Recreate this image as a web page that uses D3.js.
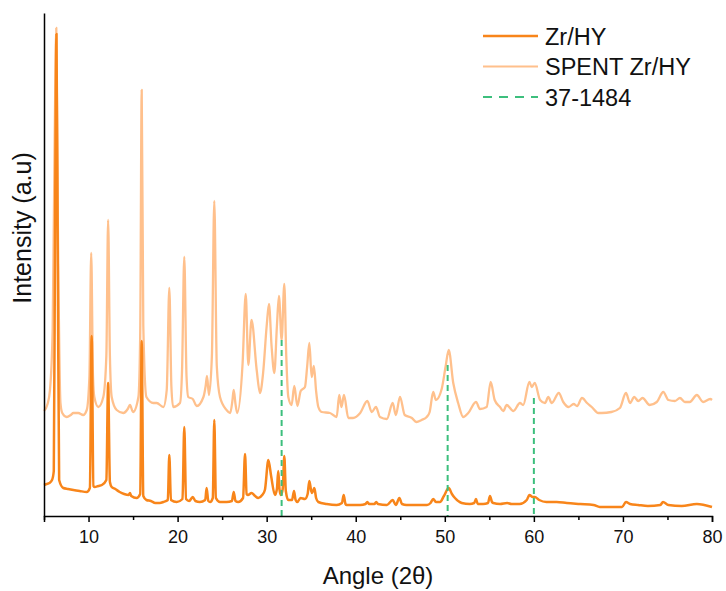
<!DOCTYPE html>
<html>
<head>
<meta charset="utf-8">
<script src="https://cdn.jsdelivr.net/npm/d3@7"></script>
<style>
  html, body { margin: 0; padding: 0; background: #fff; }
  svg { display: block; font-family: "Liberation Sans", Arial, sans-serif; }
</style>
</head>
<body>
<svg id="chart" width="726" height="591"></svg>
<script>
// ---- data (angle 2θ, intensity a.u.) ----
const zrhy = [
  [5.0,31],[5.3,32],[5.6,33],[5.9,36],[6.1,45],[6.25,300],[6.4,482],[6.55,250],[6.7,36],[7.17,28],[7.7,27],[8.3,26],[9.0,25],[9.8,24],
  [10.15,28],[10.35,180],[10.55,30],[10.7,29],[11.1,30],[11.5,31],[12.0,36],[12.2,133],[12.4,34],[12.6,29],
  [13.0,27],[13.5,24],[14.0,22],[14.5,21],[14.65,23],[14.8,20],[15.4,18],[15.8,22],[15.97,175],[16.15,20],[16.5,16],
  [17.0,15],[17.5,13],[18.0,13],[18.4,14],[18.9,16],[19.07,61],[19.25,16],[19.9,14],[20.55,17],[20.75,89],[20.95,17],
  [21.3,15],[21.7,19],[22.0,15],[22.5,14],[23.1,16],[23.26,28],[23.45,15],[23.65,14],[23.95,18],
  [24.12,96],[24.3,18],[24.76,14],[25.5,14],[26.1,15],[26.3,24],[26.5,15],[26.8,14],[27.35,18],
  [27.57,62],[27.75,22],[27.9,21],[28.3,23],[28.7,20],[29.06,18],[29.5,21],[29.8,26],[30.19,56],
  [30.5,40],[30.93,21],[31.15,27],[31.3,45],[31.45,26],[31.6,21],[31.8,27],[31.98,60],[32.15,25],
  [32.43,16],[32.85,16],[33.07,25],[33.25,16],[33.45,14],[33.8,18],[34.3,17],[34.6,22],[34.79,35],
  [35.0,25],[35.1,23],[35.35,28],[35.55,18],[35.8,14],[36.74,12],[37.86,11],[38.45,13],[38.65,21],
  [38.85,12],[38.98,11],[40.5,11],[41.1,12],[41.3,14],[41.5,12],[42.1,12],[42.3,14],[42.5,12],
  [43.5,11],[44.15,16],[44.5,11],[44.9,18],[45.2,12],[45.7,11],[48.0,11],[48.4,13],[48.7,17],
  [49.0,14],[49.46,14],[49.9,20],[50.44,28],[50.8,22],[51.14,18],[51.9,13],[52.8,12],[53.3,13],
  [53.5,17],[53.7,12],[54.3,12],[54.85,13],[55.07,20],[55.3,14],[55.44,13],[56.2,12],[57.0,13],
  [57.5,12],[58.4,12],[59.2,16],[59.5,21],[59.87,19],[60.1,19],[60.6,16],[61.4,14],[62.56,14],
  [63.7,13],[65.2,12],[66.7,11],[67.4,9],[69.9,9],[70.34,14],[70.8,12],[71.7,11],[72.8,10],
  [74.2,11],[74.5,14],[75.1,11],[76.6,10],[78.3,12],[80.0,9]
];
const spent = [
  [5.0,105],[5.4,112],[5.67,126],[5.97,186],[6.2,380],[6.38,488],[6.55,300],[6.85,113],[7.05,103],
  [7.55,99],[8.0,101],[8.3,103],[8.85,103],[9.4,101],[9.8,106],[10.1,140],[10.3,263],[10.5,140],
  [10.65,119],[11.1,109],[11.66,119],[12.0,160],[12.2,296],[12.4,160],[12.6,119],[13.16,106],
  [13.9,103],[14.4,107],[14.65,111],[15.0,104],[15.6,119],[15.8,180],[15.97,426],[16.15,190],
  [16.5,119],[17.27,113],[17.65,113],[18.4,109],[18.78,126],[19.07,228],[19.3,130],[19.5,109],
  [20.27,113],[20.5,146],[20.75,259],[21.0,140],[21.2,119],[21.7,117],[22.15,110],[22.9,119],
  [23.15,130],[23.3,140],[23.52,121],[23.85,160],[24.12,315],[24.4,150],[24.76,119],[25.5,106],
  [25.9,103],[26.15,115],[26.3,126],[26.5,112],[26.7,103],[27.3,153],[27.65,222],[27.94,151],
  [28.3,196],[28.88,146],[29.25,123],[29.6,143],[30.0,190],[30.26,212],[30.55,170],[30.86,143],
  [31.15,190],[31.38,220],[31.68,176],[31.98,232],[32.2,160],[32.43,119],[32.8,111],[33.1,130],
  [33.45,110],[33.82,125],[34.3,129],[34.55,150],[34.79,173],[35.05,139],[35.3,150],[35.55,125],
  [35.8,109],[36.18,104],[37.1,103],[37.86,99],[38.15,121],[38.4,109],[38.68,121],[39.17,98],
  [39.7,98],[40.5,103],[41.3,115],[41.8,104],[42.27,109],[42.72,99],[43.5,97],[44.15,113],
  [44.5,101],[44.97,119],[45.5,101],[46.3,98],[46.8,94],[47.4,96],[47.97,99],[48.3,104],
  [48.7,124],[49.0,116],[49.65,127],[50.1,150],[50.44,166],[50.95,133],[51.5,113],[52.07,99],
  [52.63,103],[53.5,114],[53.95,107],[54.7,109],[55.15,134],[55.6,116],[56.2,109],[56.57,105],
  [56.95,111],[57.7,105],[58.44,113],[58.8,111],[59.5,134],[59.76,129],[60.1,133],[60.7,116],
  [61.25,113],[61.62,119],[62.0,113],[62.8,123],[63.3,114],[63.9,109],[64.47,112],[64.85,110],
  [65.4,118],[65.97,113],[66.5,109],[67.24,103],[67.6,103],[68.7,104],[69.66,108],[70.34,123],
  [70.8,113],[71.27,119],[71.72,115],[72.2,118],[73.0,111],[73.8,114],[74.53,124],[75.1,116],
  [75.84,115],[76.4,118],[76.96,114],[77.5,114],[78.3,121],[79.0,114],[79.8,117],[80.0,116]
];
// reference card 37-1484 lines: [angle, top intensity]
const refLines = [[31.68,176],[50.32,151],[60.0,118]];
const xTicks = [10,20,30,40,50,60,70,80];
const xMinorTicks = [5,15,25,35,45,55,65,75];
const seriesNames = ["Zr/HY","SPENT Zr/HY","37-1484"];
const colors = {dark:"#f8851a", light:"#ffc08c", green:"#3dbf7d"};

// ---- chart ----
const svg = d3.select("#chart");
const x = d3.scaleLinear().domain([5,80]).range([44,712]);
const y = d3.scaleLinear().domain([0,503]).range([516,13]);

const line = d3.line().x(d=>x(d[0])).y(d=>y(d[1])).curve(d3.curveMonotoneX);

svg.append("path").datum(spent).attr("d",line)
  .attr("fill","none").attr("stroke",colors.light).attr("stroke-width",2.3).attr("stroke-linejoin","round");
svg.append("path").datum(zrhy).attr("d",line)
  .attr("fill","none").attr("stroke",colors.dark).attr("stroke-width",2.5).attr("stroke-linejoin","round");

svg.selectAll("line.ref").data(refLines).enter().append("line")
  .attr("x1",d=>x(d[0])).attr("x2",d=>x(d[0]))
  .attr("y1",d=>y(d[1])).attr("y2",y(0))
  .attr("stroke",colors.green).attr("stroke-width",2).attr("stroke-dasharray","6,4");

// axes
const xAxis = d3.axisBottom(x).tickValues(xTicks).tickSize(6).tickPadding(8).tickFormat(d3.format("d"));
const gx = svg.append("g").attr("transform",`translate(0,${y(0)})`).call(xAxis);
gx.select(".domain").attr("stroke","#000").attr("stroke-width",1.5);
gx.selectAll(".tick line").attr("stroke","#000").attr("stroke-width",1.5);
gx.selectAll(".tick text").attr("font-size",18).attr("fill","#111")
  .attr("font-family","'Liberation Sans', Arial, sans-serif");
const xMinor = d3.axisBottom(x).tickValues(xMinorTicks).tickSize(4).tickFormat("");
const gxm = svg.append("g").attr("transform",`translate(0,${y(0)})`).call(xMinor);
gxm.select(".domain").remove();
gxm.selectAll(".tick line").attr("stroke","#000").attr("stroke-width",1.5);

const yAxis = d3.axisLeft(y).tickValues([]).tickSizeOuter(0);
const gy = svg.append("g").attr("transform",`translate(${x(5)},0)`).call(yAxis);
gy.select(".domain").attr("stroke","#000").attr("stroke-width",1.5);

// axis titles
svg.append("text").attr("x",(x(5)+x(80))/2).attr("y",584).attr("text-anchor","middle")
  .attr("font-size",24).attr("fill","#111").text("Angle (2θ)");
svg.append("text").attr("transform","translate(31,228) rotate(-90)").attr("text-anchor","middle")
  .attr("font-size",25).attr("fill","#111").text("Intensity (a.u)");

// legend
const legend = svg.append("g");
const legStyles = [
  {c:colors.dark, w:2.4, dash:null},
  {c:colors.light, w:2.2, dash:null},
  {c:colors.green, w:2, dash:"9,7"}
];
seriesNames.forEach((name,i)=>{
  const ly = 36 + i*30.5;
  legend.append("line").attr("x1",483).attr("x2",538).attr("y1",ly).attr("y2",ly)
    .attr("stroke",legStyles[i].c).attr("stroke-width",legStyles[i].w)
    .attr("stroke-dasharray",legStyles[i].dash);
  legend.append("text").attr("x",545).attr("y",ly+8.5).attr("font-size",23.5).attr("fill","#111").text(name);
});
</script>
</body>
</html>
